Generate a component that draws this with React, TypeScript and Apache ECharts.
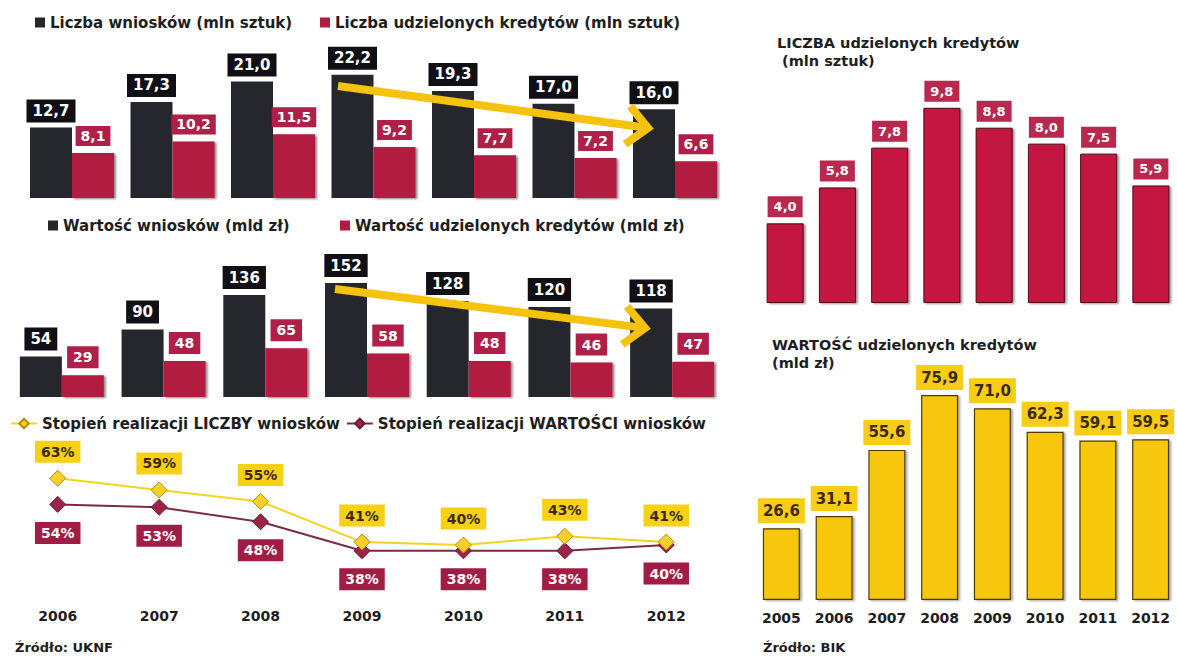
import React, { useEffect, useRef } from "react";
import * as echarts from "echarts";

// ---------- data ----------
const yearsUKNF = ["2006", "2007", "2008", "2009", "2010", "2011", "2012"];
const yearsBIK = ["2005", "2006", "2007", "2008", "2009", "2010", "2011", "2012"];

const liczbaWnioskow = [12.7, 17.3, 21.0, 22.2, 19.3, 17.0, 16.0];
const liczbaKredytow = [8.1, 10.2, 11.5, 9.2, 7.7, 7.2, 6.6];
const wartoscWnioskow = [54, 90, 136, 152, 128, 120, 118];
const wartoscKredytow = [29, 48, 65, 58, 48, 46, 47];
const realizacjaLiczby = [63, 59, 55, 41, 40, 43, 41];
const realizacjaWartosci = [54, 53, 48, 38, 38, 38, 40];
const bikLiczba = [4.0, 5.8, 7.8, 9.8, 8.8, 8.0, 7.5, 5.9];
const bikWartosc = [26.6, 31.1, 55.6, 75.9, 71.0, 62.3, 59.1, 59.5];

const names = {
  lw: "Liczba wniosków (mln sztuk)",
  lk: "Liczba udzielonych kredytów (mln sztuk)",
  ww: "Wartość wniosków (mld zł)",
  wk: "Wartość udzielonych kredytów (mld zł)",
  rl: "Stopień realizacji LICZBY wniosków",
  rw: "Stopień realizacji WARTOŚCI wniosków",
};

const FONT = "'DejaVu Sans', Verdana, sans-serif";
const dec1 = (v: number) => v.toFixed(1).replace(".", ",");

function boxLabel(bg: string, fg: string, size: number, pad: number[], fmt: (v: number) => string, distance = 5, position = "top") {
  return {
    show: true,
    position,
    distance,
    backgroundColor: bg,
    color: fg,
    padding: pad,
    fontFamily: FONT,
    fontWeight: "bold",
    fontSize: size,
    formatter: (p: any) => fmt(p.value),
  };
}

function arrow(x1: number, y1: number, x2: number, y2: number, color: string) {
  const dx = x2 - x1, dy = y2 - y1;
  const len = Math.hypot(dx, dy);
  const ux = dx / len, uy = dy / len;
  const head = 28, ang = 0.75;
  const rot = (a: number) => [ux * Math.cos(a) - uy * Math.sin(a), ux * Math.sin(a) + uy * Math.cos(a)];
  const [ax, ay] = rot(ang);
  const [bx, by] = rot(-ang);
  return [
    { type: "line", z: 100, shape: { x1, y1, x2: x2 - ux * 5, y2: y2 - uy * 5 }, style: { stroke: color, lineWidth: 8 } },
    {
      type: "polyline", z: 100,
      shape: { points: [[x2 - ax * head, y2 - ay * head], [x2, y2], [x2 - bx * head, y2 - by * head]] },
      style: { stroke: color, lineWidth: 8, lineJoin: "miter", fill: null },
    },
  ];
}

export default function App() {
  const ref = useRef<HTMLDivElement>(null);
  useEffect(() => {
    if (!ref.current) return;
    const chart = echarts.init(ref.current, undefined, { renderer: "svg" });
    const hiddenX = (gridIndex: number, data: string[]) => ({
      type: "category", gridIndex, data, show: false,
    });
    const hiddenY = (gridIndex: number, max: number, min = 0) => ({
      type: "value", gridIndex, min, max, show: false, splitLine: { show: false },
    });
    const legendText = { fontFamily: FONT, fontWeight: "bold", fontSize: 15, color: "#1e1e1e" };
    const rectLegend = (name: string, left: number, top: number) => ({
      data: [name], left, top, icon: "rect", itemWidth: 10, itemHeight: 10,
      selectedMode: false, textStyle: legendText, padding: 0,
    });
    const titleStyle = { fontFamily: FONT, fontWeight: "bold", fontSize: 14.5, lineHeight: 18, color: "#1e1e1e" };
    const srcStyle = { fontFamily: FONT, fontWeight: "bold", fontSize: 13, color: "#1e1e1e" };

    const BLACK = "#26262d";
    const RED = "#b11c40";
    const YELLOW = "#f7c70c";

    chart.setOption({
      animation: false,
      backgroundColor: "#ffffff",
      title: [
        { text: "LICZBA udzielonych kredytów\n (mln sztuk)", left: 772, top: 29, textStyle: titleStyle },
        { text: "WARTOŚĆ udzielonych kredytów\n(mld zł)", left: 767, top: 331, textStyle: titleStyle },
        { text: "Źródło: UKNF", left: 10, top: 636, textStyle: srcStyle },
        { text: "Źródło: BIK", left: 758, top: 636, textStyle: srcStyle },
      ],
      legend: [
        rectLegend(names.lw, 35, 15),
        rectLegend(names.lk, 320, 15),
        rectLegend(names.ww, 48, 218),
        rectLegend(names.wk, 340, 218),
        {
          data: [names.rl, names.rw], left: 10, top: 416, itemWidth: 26, itemHeight: 12, itemGap: 6,
          selectedMode: false, textStyle: legendText, padding: 0,
        },
      ],
      grid: [
        { left: 21.75, width: 703.5, top: 31.5, height: 166.5 },
        { left: 11, width: 712, top: 247, height: 150 },
        { left: 7, width: 710, top: 458, height: 116 },
        { left: 759, width: 426.4, top: 64, height: 239 },
        { left: 755, width: 428, top: 330, height: 270 },
      ],
      xAxis: [
        hiddenX(0, yearsUKNF),
        hiddenX(1, yearsUKNF),
        {
          type: "category", gridIndex: 2, data: yearsUKNF,
          axisLine: { show: false }, axisTick: { show: false },
          axisLabel: { margin: 35, fontFamily: FONT, fontWeight: "bold", fontSize: 14, color: "#1e1e1e" },
        },
        hiddenX(3, yearsBIK),
        {
          type: "category", gridIndex: 4, data: yearsBIK,
          axisLine: { show: false }, axisTick: { show: false },
          axisLabel: { margin: 11, fontFamily: FONT, fontWeight: "bold", fontSize: 14, color: "#1e1e1e" },
        },
      ],
      yAxis: [
        hiddenY(0, 30),
        hiddenY(1, 200),
        hiddenY(2, 70, 30),
        hiddenY(3, 12),
        hiddenY(4, 100),
      ],
      series: [
        {
          type: "bar", name: names.lw, xAxisIndex: 0, yAxisIndex: 0, data: liczbaWnioskow,
          barWidth: 42, barGap: "0%", itemStyle: { color: BLACK },
          label: boxLabel("#0f0f15", "#ffffff", 15, [4, 6], dec1, 5),
        },
        {
          type: "bar", name: names.lk, xAxisIndex: 0, yAxisIndex: 0, data: liczbaKredytow,
          barWidth: 42, barGap: "0%",
          itemStyle: { color: RED, shadowColor: "rgba(0,0,0,0.45)", shadowOffsetX: 2, shadowOffsetY: 1, shadowBlur: 2 },
          label: boxLabel("#b01f48", "#ffffff", 14, [3, 5], dec1, 7),
        },
        {
          type: "bar", name: names.ww, xAxisIndex: 1, yAxisIndex: 1, data: wartoscWnioskow,
          barWidth: 42, barGap: "0%", itemStyle: { color: BLACK },
          label: boxLabel("#0f0f15", "#ffffff", 15, [4, 6], (v) => String(v), 6),
        },
        {
          type: "bar", name: names.wk, xAxisIndex: 1, yAxisIndex: 1, data: wartoscKredytow,
          barWidth: 42, barGap: "0%",
          itemStyle: { color: RED, shadowColor: "rgba(0,0,0,0.45)", shadowOffsetX: 2, shadowOffsetY: 1, shadowBlur: 2 },
          label: boxLabel("#b01f48", "#ffffff", 14, [4, 6], (v) => String(v), 7),
        },
        {
          type: "line", name: names.rl, xAxisIndex: 2, yAxisIndex: 2, data: realizacjaLiczby,
          symbol: "diamond", symbolSize: 16, z: 3,
          lineStyle: { color: "#f3d41c", width: 2 },
          itemStyle: { color: "#f9cf2c", borderColor: "#b58c0c", borderWidth: 1 },
          label: boxLabel("#f7d116", "#3d2a0a", 14, [4, 6], (v) => v + "%", 7),
        },
        {
          type: "line", name: names.rw, xAxisIndex: 2, yAxisIndex: 2, data: realizacjaWartosci,
          symbol: "diamond", symbolSize: 16, z: 2,
          lineStyle: { color: "#7b2a48", width: 2 },
          itemStyle: { color: "#9c2446", borderColor: "#6a1830", borderWidth: 1 },
          label: boxLabel("#a21d44", "#ffffff", 14, [4, 6], (v) => v + "%", 9, "bottom"),
        },
        {
          type: "bar", name: "LICZBA udzielonych kredytów", xAxisIndex: 3, yAxisIndex: 3, data: bikLiczba,
          barWidth: 37,
          itemStyle: { color: "#c3163f", borderColor: "#4e0a18", borderWidth: 1, shadowColor: "rgba(0,0,0,0.4)", shadowOffsetX: 2, shadowOffsetY: 1, shadowBlur: 2 },
          label: boxLabel("#b8284f", "#ffffff", 13, [4, 6], dec1, 6),
        },
        {
          type: "bar", name: "WARTOŚĆ udzielonych kredytów", xAxisIndex: 4, yAxisIndex: 4, data: bikWartosc,
          barWidth: 37,
          itemStyle: { color: YELLOW, borderColor: "#4d3b00", borderWidth: 1.2, shadowColor: "rgba(0,0,0,0.35)", shadowOffsetX: 2, shadowOffsetY: 1, shadowBlur: 2 },
          label: boxLabel("#f7cd17", "#3d2a0a", 15, [5, 5], dec1, 5),
        },
      ],
      graphic: [
        ...arrow(338, 86, 648, 128, "#f5c20e"),
        ...arrow(335, 289, 645, 328, "#f5c20e"),
      ],
    });
    return () => chart.dispose();
  }, []);
  return (
    <div
      ref={ref}
      style={{ position: "absolute", left: 0, top: 0, width: 1177, height: 657, background: "#ffffff" }}
    />
  );
}
